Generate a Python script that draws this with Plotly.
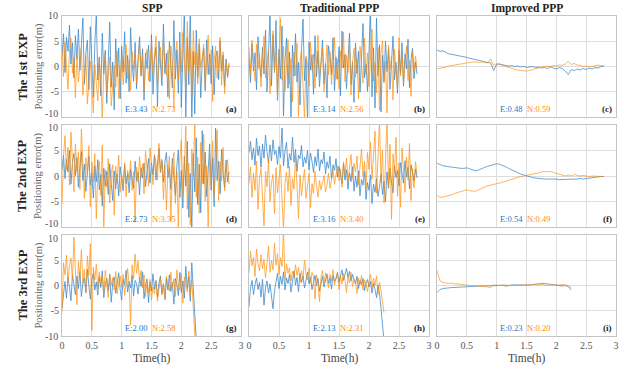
import plotly.graph_objects as go

# ---------------- data ----------------
col_titles = ["SPP", "Traditional PPP", "Improved PPP"]
row_titles = ["The 1st EXP", "The 2nd EXP", "The 3rd EXP"]
panel_tags = ["(a)", "(b)", "(c)", "(d)", "(e)", "(f)", "(g)", "(h)", "(i)"]
rms_E = ["3.43", "3.14", "0.48", "2.73", "3.16", "0.54", "2.00", "2.13", "0.23"]
rms_N = ["2.73", "2.56", "0.59", "3.35", "3.40", "0.49", "2.58", "2.31", "0.20"]
y_tickvals = [-10, -5, 0, 5, 10]
y_ticktext = ["-10", "-5", "0", "5", "10"]
x_tickvals = [0, 0.5, 1, 1.5, 2, 2.5, 3]
x_ticktext = ["0", "0.5", "1", "1.5", "2", "2.5", "3"]

step_noisy = 0.025
step_smooth = 0.05

a_E = [2.1, 6.5, -1.2, 5.8, 3.0, 8.2, 0.5, 4.7, -2.3, 6.1,
       1.4, 7.4, -0.8, 3.9, 9.6, -3.5, 2.8, 5.2, -4.6, 7.9,
       0.3, -6.1, 4.4, 10.5, -2.7, 1.9, -5.8, 6.6, -1.5, 3.2,
       -7.3, 2.4, 8.8, -4.1, 0.9, -8.6, 5.5, -2.0, 3.7, -6.4,
       4.0, -1.1, 6.9, -3.3, 2.2, -5.0, 7.7, 0.6, -2.9, 4.8,
       -4.4, 1.6, 5.9, -1.8, 3.5, -6.7, 2.7, -0.4, 4.2, -3.0,
       6.3, -5.5, 1.2, 3.8, -7.9, 5.0, 0.2, -3.8, 8.4, -1.4,
       2.6, -6.0, 4.9, 0.8, -4.2, 9.1, -2.5, 3.3, -5.3, 6.8,
       -8.1, 2.0, 11.0, -10.5, 5.7, -3.6, 12.0, -11.2, 3.0, -9.4,
       7.2, -2.2, 4.5, -6.2, 1.0, 3.6, -4.8, 5.3, -1.6, 2.5,
       -3.4, 4.1, -5.6, 1.8, 3.1, -2.6, 5.1, -0.9, 2.3, -4.0,
       1.5, -2.1, 0.4]
a_N = [3.5, -2.0, 4.8, 0.6, -4.5, 2.9, 5.6, -1.3, 1.8, -6.2,
       2.4, -3.1, 0.7, 3.6, -5.7, -1.0, 2.0, -7.4, -2.2, 1.1,
       -4.9, -9.2, 0.4, -3.3, -6.8, 1.5, -2.6, -10.5, -0.8, 2.7,
       -5.2, -1.7, 1.9, -7.8, -3.0, 0.2, -4.1, 3.1, -6.3, -1.2,
       2.2, -3.6, 0.9, 4.3, -2.4, 1.4, -4.7, 3.0, -0.6, 2.5,
       -3.2, 0.8, 4.6, -1.9, 2.1, -5.1, 1.7, 3.4, -2.8, 0.5,
       4.9, -1.5, 2.6, 6.0, -3.9, 1.0, 3.8, -2.1, 5.4, 0.1,
       -1.8, 3.2, -6.5, 4.1, 0.7, -8.3, 2.3, 5.0, -2.7, 3.9,
       -1.1, 6.7, 1.2, -4.4, 8.9, -0.9, 3.5, -5.9, 7.1, 0.3,
       2.8, -3.5, 5.5, -0.2, 1.6, 4.4, -4.0, 2.0, 6.2, -1.6,
       3.3, -6.9, 1.3, 4.0, -2.3, 0.6, 5.8, -3.7, 2.9, -5.4,
       1.1, -2.2, 0.8]
b_E = [1.8, -3.2, 4.5, -0.9, 2.7, -4.6, 5.9, 0.4, -2.1, 3.8,
       -1.5, 7.2, -5.0, 2.1, 10.4, -3.8, 6.3, -1.2, 9.1, -6.7,
       3.4, -2.4, 8.0, -9.8, 1.2, 5.6, -4.3, 2.9, -10.8, 4.2,
       -1.9, 6.5, -3.1, 0.8, -7.6, 3.3, 9.4, -2.8, 1.6, -11.0,
       4.8, -0.7, 2.3, -5.5, 6.1, -2.0, 3.1, -4.0, 1.0, 5.2,
       -3.4, 0.6, -6.2, 4.1, 2.0, -1.6, 5.7, -4.8, 1.9, -2.5,
       3.9, -5.8, 7.0, -0.3, 2.4, -4.4, 1.3, 6.6, -3.6, 0.9,
       -7.1, 4.6, -1.4, 3.0, -5.1, 2.6, 8.5, -2.2, 0.5, -4.9,
       5.5, 10.8, -6.0, 3.7, -8.2, 9.6, -1.8, 4.3, -9.0, 2.2,
       -3.0, 5.0, -1.0, 3.5, -4.5, 1.7, 6.0, -2.6, 0.8, -5.3,
       3.2, -1.3, 4.7, -3.9, 2.5, -0.5, 5.4, -4.2, 1.4, 3.6,
       -2.4, 0.9, -1.5]
b_N = [3.9, -1.4, 5.2, 0.8, -2.9, 4.4, -0.5, 2.6, -4.1, 1.7,
       6.0, -2.3, 0.9, 3.5, -5.4, 2.0, 7.1, -1.0, 3.0, -6.2,
       1.3, 9.5, -2.7, 4.0, -4.8, 0.2, 5.3, -3.5, 1.6, -7.0,
       2.8, -1.8, 4.6, -9.9, 0.7, 3.3, -2.5, -10.6, 2.1, 0.4,
       -3.8, 4.9, -0.8, 2.5, -4.3, 1.8, 6.2, -2.0, 0.3, 3.7,
       -5.0, 1.1, 4.3, -1.7, 2.9, -3.6, 0.5, 5.8, -2.6, 1.4,
       -4.5, 3.1, -0.2, 6.8, -3.0, 2.2, -1.2, 4.5, -5.6, 0.6,
       3.6, -2.1, 1.5, -6.4, 4.0, 0.1, -3.3, 5.6, -1.5, 2.7,
       -4.0, 1.9, 7.4, -2.9, 0.8, -5.2, 3.8, -8.7, 2.4, 5.1,
       -3.2, 1.0, -9.2, 4.2, -0.6, 2.0, -6.6, 3.4, 0.2, -4.6,
       5.7, -1.9, 2.3, -3.4, 0.7, 4.1, -2.8, 1.2, -5.9, 3.0,
       -1.0, 2.1, -0.4]
c_E = [3.3, 3.0, 3.1, 2.8, 2.5, 2.4, 2.3, 2.2, 2.0, 1.9,
       1.8, 1.6, 1.5, 1.4, 1.3, 1.1, 0.9, 0.8, 0.7, -0.8,
       0.4, 0.5, 0.3, 0.2, 0.1, 0.2, 0.0, 0.1, -0.1, 0.0,
       -0.2, -0.1, 0.0, -0.2, -0.1, -0.3, -0.2, -0.4, -0.1, -0.3,
       -0.5, -0.2, -0.4, -0.9, -1.6, -0.6, -0.8, -0.5, -0.7, -0.4,
       -0.6, -0.3, -0.5, -0.2, -0.3, 0.0, 0.1]
c_N = [-0.5, -0.4, -0.2, -0.1, 0.1, 0.2, 0.4, 0.5, 0.6, 0.7,
       0.8, 0.8, 0.9, 0.9, 0.8, 0.9, 0.8, 0.7, 1.5, 0.2,
       0.6, 0.4, 0.2, 0.0, -0.2, -0.4, -0.5, -0.7, -0.8, -0.9,
       -0.9, -0.8, -0.6, -0.4, -0.2, -0.1, 0.0, 0.1, 0.0, 0.2,
       0.1, 0.3, 0.2, 0.5, 1.0, 0.4, 0.6, 0.3, 0.2, 0.0,
       0.1, -0.1, 0.0, 0.2, 0.3, 0.1, 0.2]
d_E = [1.2, 4.1, -0.5, 3.3, 0.8, 5.0, -1.6, 2.7, 4.4, 0.1,
       3.6, -2.2, 1.9, 4.8, -0.9, 2.3, -3.0, 1.4, 3.9, -1.8,
       0.6, -4.3, 2.0, -1.1, 3.2, -2.7, 0.3, -5.9, 1.5, -2.0,
       0.9, -3.6, 2.4, -1.3, -4.8, 1.0, -2.5, 0.4, -3.9, 1.8,
       -0.7, -2.9, 2.2, -1.5, 0.5, -3.3, 1.3, -0.2, -2.4, 2.9,
       -1.0, 0.8, -3.7, 1.6, -0.4, 2.5, -2.1, 0.9, 3.4, -1.4,
       2.6, 0.2, 4.0, -0.8, 2.1, 5.4, 0.7, 3.0, -1.2, 2.8,
       4.6, -0.3, 1.7, -2.6, 3.5, 0.4, -3.8, 2.0, 5.1, -4.2,
       1.1, -6.3, 3.9, -2.0, 6.8, -8.1, 0.5, -10.6, 4.4, -3.1,
       7.5, -5.6, 2.3, -7.2, 8.9, -1.6, 4.7, -4.0, 1.9, 6.3,
       -2.8, 3.6, -6.0, 9.4, -0.9, 2.9, -3.5, 5.2, 0.6, -2.3,
       3.1, -1.2, 0.8]
d_N = [-5.5, 3.8, 7.9, 1.2, 5.6, -1.8, 8.6, 2.4, -3.1, 6.3,
       0.9, 4.7, -2.6, 9.2, 1.5, -4.4, 3.6, 0.2, 5.9, -6.0,
       2.8, -1.1, 4.4, -8.4, 0.7, 2.9, -3.8, 6.1, -10.5, 1.3,
       -2.2, 3.4, -5.3, 0.5, 2.2, -7.7, 1.9, -1.4, 4.1, -3.2,
       0.3, -1.9, 2.6, -4.1, 1.1, -0.6, 3.0, -2.8, 0.8, -9.0,
       1.7, -1.2, 3.8, -0.3, 2.4, -3.5, 4.9, 0.4, -2.0, 5.5,
       1.3, -1.7, 4.2, 2.7, -0.8, 6.4, 1.0, 3.3, -4.6, 2.1,
       -6.7, 0.6, 3.9, -8.8, 1.8, 4.6, -5.4, 0.9, -10.5, 3.0,
       7.1, -3.9, 1.4, 9.8, -6.5, 2.5, -9.6, 5.3, 0.1, 10.8,
       -4.2, 3.7, -7.3, 6.6, -1.5, 8.2, -5.0, 2.0, -10.4, 4.5,
       -2.1, 6.9, -3.6, 1.2, 9.0, -4.8, 2.8, -1.0, 5.6, -2.9,
       0.7, 3.2, -1.6]
e_E = [4.6, 6.8, 3.2, 5.5, 2.1, 7.4, 4.0, 5.9, 1.7, 6.3,
       3.5, 8.0, 4.8, 2.6, 6.1, 3.0, 7.1, 4.2, 5.0, 2.3,
       5.8, 3.6, 9.4, 2.0, 4.9, 6.6, 1.5, 4.4, 3.1, 7.6,
       2.7, 5.2, 0.9, 4.1, 3.4, 6.0, 1.8, 3.7, 2.5, 5.0,
       1.2, 4.5, 2.9, 0.7, 3.8, 2.0, 5.3, 1.0, 3.2, 2.4,
       4.7, 0.4, 2.8, 1.5, 3.9, -0.6, 2.2, 1.1, 3.4, -0.2,
       1.9, 0.3, -1.5, 2.4, -0.8, 1.2, -2.6, 0.6, -1.1, 1.8,
       -3.0, 0.0, -2.2, 1.0, -3.9, -0.7, -1.8, 0.9, -4.6, -1.3,
       -2.8, 0.2, -5.4, -1.6, -3.2, -0.5, -4.0, -2.1, 0.4, -3.6,
       -1.0, -5.0, 0.8, -2.4, 1.5, -1.2, -3.3, 2.0, -0.3, 1.1,
       -1.9, 2.6, 0.5, -1.4, 3.0, -0.2, 1.7, -2.5, 2.2, 0.1,
       -1.0, 1.4, -0.4]
e_N = [-1.5, 1.8, -4.2, 0.6, -2.8, 2.9, -6.5, -0.4, 1.5, -3.6,
       -9.8, 0.9, -2.1, 3.4, -5.0, -1.2, 0.3, -7.4, 1.6, -3.3,
       -0.8, 2.2, -4.7, -10.6, -1.4, 0.8, -3.0, 1.9, -5.8, -0.5,
       -2.6, 4.0, -1.9, -8.3, 0.2, -3.9, -1.0, 1.3, -4.4, -2.2,
       0.5, -6.2, -1.5, -3.4, 0.9, -2.0, -4.1, -0.9, -2.7, -1.3,
       0.1, -3.1, -1.8, 0.6, -2.4, -0.7, 1.2, -1.6, 0.3, 2.0,
       -0.9, 1.4, -2.2, 2.8, 0.2, 3.5, -1.1, 1.8, 4.2, -0.4,
       2.5, 0.8, 3.9, -1.7, 2.1, 5.3, 0.0, 2.9, -2.5, 4.6,
       1.3, 6.7, -0.6, 3.2, 8.8, -3.4, 2.4, 10.9, -1.2, 5.1,
       -5.3, 3.8, 11.0, -2.0, 6.2, -8.5, 4.3, 0.7, 7.6, -4.0,
       2.6, -6.1, 5.5, 0.9, -3.2, 3.7, -0.8, 6.4, -4.8, 1.5,
       -2.3, 2.8, 0.4]
f_E = [2.5, 2.2, 2.0, 1.9, 1.8, 1.7, 1.6, 1.6, 1.5, 1.5,
       1.6, 1.4, 1.2, 1.0, 1.2, 1.5, 1.7, 1.9, 2.1, 2.3,
       2.4, 2.3, 2.1, 1.8, 1.5, 1.2, 0.9, 0.6, 0.4, 0.2,
       0.0, -0.2, -0.3, -0.4, -0.5, -0.6, -0.6, -0.6, -0.6, -0.5,
       -0.6, -0.7, -0.7, -0.6, -0.6, -0.7, -0.6, -0.6, -0.5, -0.6,
       -0.5, -0.4, -0.3, -0.2, -0.2, -0.1, -0.1]
f_N = [-3.8, -4.2, -4.1, -4.0, -3.8, -3.7, -3.4, -3.2, -3.0, -2.8,
       -2.7, -2.9, -3.0, -3.0, -2.7, -2.4, -2.1, -1.9, -1.8, -1.6,
       -1.5, -1.4, -1.2, -1.0, -0.8, -0.6, -0.4, -0.2, -0.1, 0.0,
       0.1, 0.3, 0.4, 0.5, 0.6, 0.8, 0.9, 0.8, 0.9, 0.7,
       0.5, 0.3, 0.1, 0.0, 0.2, 0.0, 0.3, 0.1, 0.0, 0.1,
       0.0, -0.1, 0.0, 0.0, -0.1, -0.1, -0.1]
g_E = [-4.6, -1.2, 0.8, -2.5, 1.6, -0.3, -3.0, 2.1, 0.4, -1.8,
       1.9, -0.6, 2.8, -2.2, 0.5, 1.5, -1.4, 3.2, 0.0, -2.7,
       1.1, 2.4, -0.9, 0.7, -1.9, 1.8, -0.4, 2.9, -2.4, 0.3,
       1.4, -1.0, 2.2, -3.3, 0.6, 1.7, -1.5, 0.9, 2.5, -0.8,
       -2.9, 1.2, 0.2, 3.0, -1.3, 0.8, -0.5, 2.0, -2.1, 1.0,
       0.4, -1.7, 1.6, -0.2, 2.7, -2.6, 0.1, 1.3, -3.4, 0.7,
       -1.1, 2.3, -0.7, 1.0, -2.3, 0.5, 1.9, -1.6, 0.3, -2.8,
       1.5, -0.9, 2.1, -1.2, 0.6, -3.7, 1.4, 0.2, -2.0, 2.6,
       -1.4, 0.9, -2.5, 3.8, -0.6, 1.8, -3.1, 4.5, -1.0, -7.8,
       -10.8]
g_N = [-5.2, 4.5, 2.1, 6.0, 0.8, 3.9, 5.4, 1.2, 9.6, 2.5,
       -3.8, 4.8, 1.6, 7.1, 0.4, 3.2, -1.5, 5.8, 2.0, 8.3,
       -8.9, 3.6, 1.1, 4.2, -0.6, 2.7, 0.3, 1.9, -1.8, 3.0,
       0.7, -2.4, 2.3, 0.1, 1.5, -0.9, 2.8, -1.7, 0.6, 1.9,
       -0.4, 2.2, -2.0, 1.0, 3.4, 0.2, -7.8, 4.1, 1.3, 6.2,
       2.4, 4.9, 0.8, 3.0, -0.5, 2.1, -2.2, 0.6, -1.4, 1.2,
       -2.9, -0.3, -1.6, 0.8, -3.1, -0.8, 1.5, -1.9, 0.4, -2.5,
       1.8, 0.2, -1.1, 2.6, -0.4, 1.3, -2.2, 3.1, 0.0, -0.9,
       2.4, -3.5, 1.7, 0.3, -1.3, 2.9, -2.0, 1.1, -4.2, -9.8,
       -10.6]
h_E = [-4.2, -0.5, 1.0, -1.8, 0.2, 1.5, -0.8, 0.6, -2.3, 1.2,
       -3.9, -0.4, 0.9, -1.5, 0.3, -2.0, -4.6, -1.0, 0.5, 2.4,
       -0.6, 1.8, 0.2, 2.7, -0.9, 1.5, 0.4, 2.2, -1.3, 1.0,
       2.9, 0.1, 1.6, -1.2, 2.4, 0.6, 1.9, -0.5, 1.2, 2.6,
       0.3, 1.7, -0.8, 0.9, 2.0, 0.0, 1.4, -1.1, 0.7, 1.8,
       -0.3, 1.1, 2.3, 0.4, 1.5, -0.7, 2.0, 0.8, 1.3, 2.5,
       0.6, 1.9, 3.1, 1.0, 2.4, 3.4, 1.6, 2.8, 0.9, 2.2,
       1.2, 0.3, 1.8, -0.6, 1.0, 0.2, 1.4, -1.0, 0.5, 1.2,
       -0.3, 0.8, -1.5, 0.4, -0.8, -2.4, 0.1, -1.6, -4.5, -8.6,
       -11.0]
h_N = [2.5, 6.8, 3.9, 5.6, 1.8, 7.2, 4.4, 2.9, 6.1, 3.3,
       5.2, 1.5, 4.7, 7.8, 2.6, 5.0, 3.1, 8.4, 4.0, 6.3,
       2.2, 5.5, 3.8, 11.0, 1.0, 4.3, 2.4, 3.5, 0.9, 2.8,
       1.6, 4.1, 2.0, 3.6, 0.7, 2.9, 1.4, 5.0, 2.3, 1.1,
       3.4, 0.5, 2.6, 1.8, -2.7, 2.1, 0.6, -3.2, 1.7, 3.0,
       0.4, 2.5, 1.2, -0.5, 2.2, 0.9, 3.1, 0.1, 1.6, 2.7,
       -0.8, 1.9, 0.3, 2.4, 1.0, -1.4, 1.8, 0.5, 2.6, -0.2,
       1.3, 0.7, -1.6, 1.5, 0.2, 2.0, -0.9, 1.1, 0.4, -1.2,
       0.8, 2.2, -0.5, 1.4, 0.0, 1.9, -1.8, 0.6, -1.0, -2.8,
       -5.4]
i_E = [-1.4, -0.8, -0.6, -0.5, -0.5, -0.4, -0.4, -0.3, -0.3, -0.3,
       -0.2, -0.2, -0.2, -0.1, -0.1, -0.1, -0.1, 0.0, 0.0, 0.0,
       0.0, 0.0, 0.1, 0.0, 0.0, 0.1, 0.1, 0.0, 0.1, 0.1,
       0.1, 0.1, 0.2, 0.3, 0.3, 0.4, 0.4, 0.3, 0.3, 0.2,
       0.1, 0.0, -0.1, 0.0, -0.2, -0.9]
i_N = [3.0, 0.9, 0.6, 0.5, 0.4, 0.5, 0.3, 0.3, 0.2, 0.2,
       0.1, 0.0, 0.0, -0.1, -0.1, -0.2, -0.2, -0.3, -0.4, 0.1,
       0.1, 0.1, 0.0, -0.2, 0.0, 0.0, 0.0, 0.1, 0.1, 0.0,
       0.1, 0.1, 0.2, 0.1, 0.1, 0.2, 0.1, 0.0, 0.1, 0.1,
       0.0, 0.1, 0.2, 0.1, 0.0, -0.5]

panels = [(a_E, a_N, step_noisy), (b_E, b_N, step_noisy), (c_E, c_N, step_smooth),
          (d_E, d_N, step_noisy), (e_E, e_N, step_noisy), (f_E, f_N, step_smooth),
          (g_E, g_N, step_noisy), (h_E, h_N, step_noisy), (i_E, i_N, step_smooth)]

# ---------------- style / layout ----------------
W, H = 624, 376
BLUE = "#1f77c4"
ORANGE = "#ff8c00"
FONT = "Liberation Serif"
TICK_COLOR = "#555555"
col_px = [(62, 241), (249, 429), (437, 616)]
row_px = [(16, 117), (125, 227), (235, 336)]

def fx(px):
    return px / W

def fy(py):
    return 1 - py / H

fig = go.Figure()
layout = dict(width=W, height=H, margin=dict(l=0, r=0, t=0, b=0, autoexpand=False),
              paper_bgcolor="white", plot_bgcolor="white", showlegend=False,
              font=dict(family=FONT, size=10, color=TICK_COLOR))
annotations = []

for p, (sE, sN, st) in enumerate(panels):
    r, c = divmod(p, 3)
    k = p + 1
    sfx = "" if k == 1 else str(k)
    xa, ya = "x" + sfx, "y" + sfx
    lw = 0.8 if st == step_noisy else 0.75
    for vals, col in ((sE, BLUE), (sN, ORANGE)):
        t = [round(i * st, 4) for i in range(len(vals))]
        fig.add_trace(go.Scatter(x=t, y=vals, mode="lines", xaxis=xa, yaxis=ya,
                                 line=dict(color=col, width=lw), opacity=0.85,
                                 hoverinfo="skip"))
    layout["xaxis" + sfx] = dict(domain=[fx(col_px[c][0]), fx(col_px[c][1])], anchor=ya,
                                 range=[0, 3], tickvals=x_tickvals, ticktext=x_ticktext,
                                 showticklabels=(r == 2), showgrid=True, gridcolor="#dddddd",
                                 gridwidth=1, zeroline=False, showline=True, mirror=True,
                                 linecolor="#c4c4c4", linewidth=1, ticks="", automargin=False,
                                 tickfont=dict(family=FONT, size=10, color=TICK_COLOR))
    # inner y tick labels via axis; the +-10 ones as shifted annotations to avoid collisions
    inner_text = ["" if abs(v) == 10 else s for v, s in zip(y_tickvals, y_ticktext)]
    layout["yaxis" + sfx] = dict(domain=[fy(row_px[r][1]), fy(row_px[r][0])], anchor=xa,
                                 range=[-10, 10], tickvals=y_tickvals, ticktext=inner_text,
                                 showticklabels=(c == 0), showgrid=True, gridcolor="#dddddd",
                                 gridwidth=1, zeroline=False, showline=True, mirror=True,
                                 linecolor="#c4c4c4", linewidth=1, ticks="", automargin=False,
                                 tickfont=dict(family=FONT, size=10, color=TICK_COLOR))
    if c == 0:
        for v, s in zip(y_tickvals, y_ticktext):
            if abs(v) != 10:
                continue
            shift = 0
            if v == -10 and r < 2:
                shift = 3
            if v == 10 and r > 0:
                shift = -3
            annotations.append(dict(x=fx(col_px[0][0] - 2), y=v, xref="paper", yref=ya,
                                    text=s, showarrow=False, xanchor="right", yanchor="middle",
                                    yshift=shift,
                                    font=dict(family=FONT, size=10, color=TICK_COLOR)))
    annotations.append(dict(x=1.03, y=-8.4, xref=xa, yref=ya, text="E:" + rms_E[p],
                            showarrow=False, xanchor="left", yanchor="middle",
                            font=dict(family=FONT, size=8.5, color=BLUE)))
    annotations.append(dict(x=1.48, y=-8.4, xref=xa, yref=ya, text="N:" + rms_N[p],
                            showarrow=False, xanchor="left", yanchor="middle",
                            font=dict(family=FONT, size=8.5, color=ORANGE)))
    annotations.append(dict(x=2.96, y=-8.4, xref=xa, yref=ya, text="<b>" + panel_tags[p] + "</b>",
                            showarrow=False, xanchor="right", yanchor="middle",
                            font=dict(family=FONT, size=9, color="#222222")))

for c in range(3):
    cx = fx((col_px[c][0] + col_px[c][1]) / 2)
    annotations.append(dict(x=cx, y=fy(8), xref="paper", yref="paper",
                            text="<b>" + col_titles[c] + "</b>", showarrow=False,
                            xanchor="center", yanchor="middle",
                            font=dict(family=FONT, size=11.5, color="#222222")))
    annotations.append(dict(x=cx, y=fy(358), xref="paper", yref="paper",
                            text="Time(h)", showarrow=False, xanchor="center", yanchor="middle",
                            font=dict(family=FONT, size=11.5, color="#444444")))

for r in range(3):
    cy = fy((row_px[r][0] + row_px[r][1]) / 2)
    annotations.append(dict(x=fx(22), y=cy, xref="paper", yref="paper",
                            text="<b>" + row_titles[r] + "</b>", showarrow=False,
                            textangle=-90, xanchor="center", yanchor="middle",
                            font=dict(family=FONT, size=12.5, color="#222222")))
    annotations.append(dict(x=fx(38), y=cy, xref="paper", yref="paper",
                            text="Positioning error(m)", showarrow=False,
                            textangle=-90, xanchor="center", yanchor="middle",
                            font=dict(family=FONT, size=10.5, color="#666666")))

layout["annotations"] = annotations
fig.update_layout(**layout)
fig.write_html("out.html", config={"displayModeBar": False},
               post_script="document.body.style.margin='0';document.body.style.padding='0';")
